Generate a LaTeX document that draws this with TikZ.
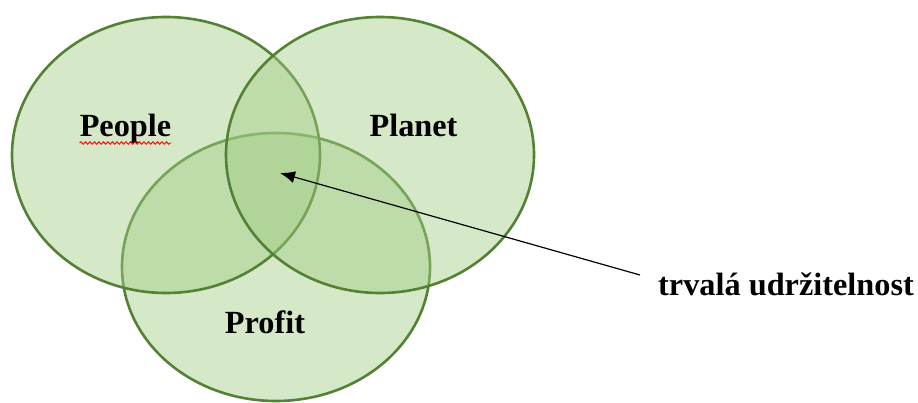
\documentclass[tikz,border=0pt]{standalone}
\usepackage{fontspec}
\setmainfont{Liberation Serif}
\usetikzlibrary{shapes.geometric,arrows.meta,decorations.pathmorphing}
\definecolor{vfill}{RGB}{162,204,133}
\definecolor{vline}{RGB}{84,130,53}
\tikzset{
  venn/.style={ellipse, draw=vline, line width=2.6pt, fill=vfill, fill opacity=0.45,
    draw opacity=1, inner sep=0pt, minimum width=308pt, minimum height=276pt},
  lbl/.style={font=\fontsize{32.3}{36}\selectfont\bfseries, inner sep=0pt, text=black},
}
\begin{document}
\begin{tikzpicture}[x=1pt,y=-1pt]
\useasboundingbox (0,0) rectangle (918,403);
\node[venn, minimum height=268pt] (profit) at (276,267) {};
\node[venn] (people) at (166,155) {};
\node[venn] (planet) at (380,155) {};
\node[lbl, anchor=base] (tpeople) at (125.5,137) {People};
\node[lbl, anchor=base] (tplanet) at (413.5,137) {Planet};
\node[lbl, anchor=base] (tprofit) at (265,334) {Profit};
\node[lbl, anchor=base west] (tsus) at (658,295) {trvalá udržitelnost};
\draw[red, line width=0.9pt, decorate, decoration={snake, amplitude=1.3pt, segment length=4.5pt}]
  ([yshift=-6pt]tpeople.base west) -- ([yshift=-6pt]tpeople.base east);
\coordinate (tip) at (280,173);
\coordinate (start) at (640,275);
\draw[line width=1.2pt, -{Latex[length=15pt,width=12pt]}] (start) -- (tip);
\end{tikzpicture}
\end{document}
